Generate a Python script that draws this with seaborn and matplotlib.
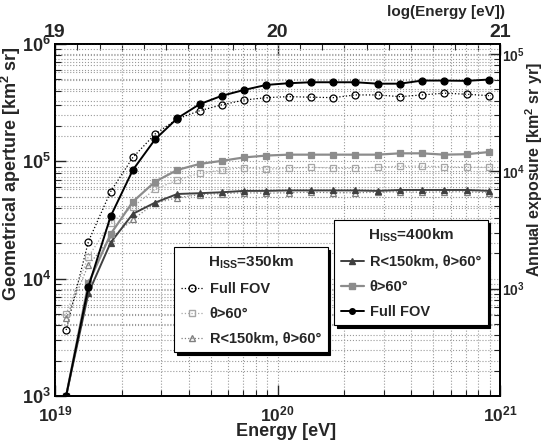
import numpy as np
import matplotlib
matplotlib.use("Agg")
from matplotlib import pyplot as plt
from matplotlib.lines import Line2D
from matplotlib.ticker import LogLocator, MultipleLocator, FixedLocator, NullFormatter
import seaborn as sns

# bin centres, log10(E/eV)
log_energy = [19.05, 19.15, 19.25, 19.35, 19.45, 19.55, 19.65, 19.75, 19.85, 19.95,
              20.05, 20.15, 20.25, 20.35, 20.45, 20.55, 20.65, 20.75, 20.85, 20.95]

# H_ISS = 400 km (solid)
full_400 = [1.0e3, 8.5e3, 3.4e4, 8.45e4, 1.54e5, 2.33e5, 3.07e5, 3.62e5, 4.06e5, 4.48e5,
            4.63e5, 4.72e5, 4.72e5, 4.72e5, 4.59e5, 4.59e5, 4.88e5, 4.88e5, 4.85e5, 4.98e5]
theta_400 = [1.0e3, 9.1e3, 2.4e4, 4.53e4, 6.71e4, 8.45e4, 9.5e4, 1.01e5, 1.08e5, 1.12e5,
             1.14e5, 1.14e5, 1.14e5, 1.14e5, 1.14e5, 1.17e5, 1.17e5, 1.14e5, 1.15e5, 1.2e5]
rcut_400 = [1.0e3, 7.5e3, 2.03e4, 3.57e4, 4.45e4, 5.27e4, 5.35e4, 5.45e4, 5.6e4, 5.6e4,
            5.65e4, 5.65e4, 5.65e4, 5.65e4, 5.6e4, 5.7e4, 5.7e4, 5.7e4, 5.7e4, 5.6e4]

# H_ISS = 350 km (dotted)
full_350 = [3.65e3, 2.07e4, 5.52e4, 1.08e5, 1.71e5, 2.3e5, 2.7e5, 3.03e5, 3.33e5, 3.49e5,
            3.56e5, 3.52e5, 3.49e5, 3.68e5, 3.68e5, 3.56e5, 3.68e5, 3.81e5, 3.73e5, 3.63e5]
theta_350 = [5.0e3, 1.54e4, 3.0e4, 4.1e4, 5.78e4, 6.93e4, 7.9e4, 8.45e4, 8.84e4, 8.57e4,
             8.73e4, 8.9e4, 8.73e4, 8.73e4, 8.9e4, 9.1e4, 9.1e4, 9.0e4, 8.9e4, 8.9e4]
rcut_350 = [4.6e3, 1.31e4, 2.2e4, 3.2e4, 4.4e4, 4.9e4, 5.2e4, 5.3e4, 5.4e4, 5.35e4,
            5.4e4, 5.45e4, 5.4e4, 5.4e4, 5.45e4, 5.5e4, 5.45e4, 5.5e4, 5.5e4, 5.4e4]

exposure_factor = 0.1213  # right axis = aperture * factor

sns.set_style("ticks")
plt.rcParams["font.family"] = ["Liberation Sans", "DejaVu Sans"]
plt.rcParams["font.weight"] = "bold"
plt.rcParams["mathtext.fontset"] = "custom"
plt.rcParams["mathtext.rm"] = "Liberation Sans:bold"
plt.rcParams["mathtext.bf"] = "Liberation Sans:bold"
plt.rcParams["mathtext.it"] = "Liberation Sans:bold"
plt.rcParams["mathtext.default"] = "bf"

energy = 10 ** np.array(log_energy)

fig, ax = plt.subplots(figsize=(5.44, 4.41), dpi=100)
fig.subplots_adjust(left=55/544, right=500/544, bottom=1-396/441, top=1-44/441)

ax.set_xscale("log")
ax.set_yscale("log")

series = [
    (full_350, "o", "black", "none", ":", 0.9),
    (theta_350, "s", "#a6a6a6", "none", ":", 0.9),
    (rcut_350, "^", "#808080", "none", ":", 0.9),
    (rcut_400, "^", "#404040", "#404040", "-", 1.4),
    (theta_400, "s", "#8c8c8c", "#8c8c8c", "-", 1.6),
    (full_400, "o", "black", "black", "-", 1.4),
]
for vals, mk, col, mfc, ls, lw in series:
    sns.lineplot(x=energy, y=vals, ax=ax, color=col, marker=mk, markersize=5,
                 markerfacecolor=mfc, markeredgecolor=col, markeredgewidth=0.9,
                 linestyle=ls, linewidth=lw)

ax.set_xlim(1e19, 1e21)
ax.set_ylim(1e3, 1e6)
ax.xaxis.set_major_locator(FixedLocator([1e19, 1e20, 1e21]))
ax.xaxis.set_minor_locator(LogLocator(base=10, subs=np.arange(2, 10)))
ax.xaxis.set_minor_formatter(NullFormatter())
ax.yaxis.set_major_locator(LogLocator(base=10, numticks=10))
ax.yaxis.set_minor_locator(LogLocator(base=10, subs=np.arange(2, 10), numticks=10))
ax.yaxis.set_minor_formatter(NullFormatter())
ax.grid(which="both", linestyle=":", color="#9a9a9a", linewidth=0.8)
ax.tick_params(which="both", direction="in", labelsize=13, top=False, right=False)
ax.tick_params(which="major", length=8, width=1)
ax.tick_params(which="minor", length=4, width=0.8)
ax.tick_params(axis="x", pad=6, labelsize=12.5)
ax.tick_params(axis="y", pad=3)
ax.set_xlabel("Energy [eV]", fontsize=13, fontweight="bold")
ax.xaxis.set_label_coords((286 - 55) / 445, -0.077)

# right axis: annual exposure
ax_r = ax.twinx()
ax_r.set_yscale("log")
ax_r.set_ylim(1e3 * exposure_factor, 1e6 * exposure_factor)
ax_r.yaxis.set_major_locator(LogLocator(base=10, numticks=10))
ax_r.yaxis.set_minor_locator(LogLocator(base=10, subs=np.arange(2, 10), numticks=10))
ax_r.yaxis.set_minor_formatter(NullFormatter())
ax_r.grid(which="both", axis="y", linestyle=":", color="#9a9a9a", linewidth=0.8)
ax_r.tick_params(which="both", direction="in", labelsize=10, pad=1.5)
ax_r.tick_params(which="major", length=8, width=1)
ax_r.tick_params(which="minor", length=4, width=0.8)

# axis titles aligned to the top end, as in the original
fig.text(11/544, 1-46/441, "Geometrical aperture [km$^2$ sr]", fontsize=13,
         fontweight="bold", rotation=90, ha="center", va="top")
fig.text(534/544, 1-62/441, "Annual exposure [km$^2$ sr yr]", fontsize=11.5,
         fontweight="bold", rotation=90, ha="center", va="top")

# top axis: log10 of energy
ax_t = ax.twiny()
ax_t.set_xlim(19, 21)
ax_t.xaxis.set_major_locator(FixedLocator([19, 20, 21]))
ax_t.xaxis.set_minor_locator(MultipleLocator(0.1))
ax_t.tick_params(which="both", direction="in", labelsize=14, pad=2)
ax_t.tick_params(which="major", length=8, width=1)
ax_t.tick_params(which="minor", length=4, width=0.8)
fig.text(505/544, 1-12/441, "log(Energy [eV])", fontsize=11, fontweight="bold",
         ha="right", va="center")

for a in (ax, ax_r, ax_t):
    for sp in a.spines.values():
        sp.set_color("black")
        sp.set_linewidth(1.3)

ax_r.set_zorder(ax.get_zorder() - 1)
ax_t.set_zorder(ax.get_zorder() - 1)
ax.patch.set_visible(False)

shadow = {"color": "black", "alpha": 1.0}
leg_kw = dict(loc="upper left", bbox_transform=fig.transFigure, fancybox=False,
              shadow=shadow, framealpha=1, edgecolor="black", fontsize=10.5,
              title_fontsize=11, handlelength=1.6, handletextpad=0.4, borderpad=0.45,
              borderaxespad=0, labelspacing=0.75)

h350 = [Line2D([], [], color="black", marker="o", mfc="none", ls=":", lw=0.9, ms=5),
        Line2D([], [], color="#a6a6a6", marker="s", mfc="none", ls=":", lw=0.9, ms=5),
        Line2D([], [], color="#808080", marker="^", mfc="none", ls=":", lw=0.9, ms=5)]
l350 = ["Full FOV", "θ>60°", "R<150km, θ>60°"]
leg1 = ax.legend(h350, l350, title="H$_{\\mathrm{ISS}}$=350km",
                 bbox_to_anchor=(174/544, 1-247/441), **leg_kw)
leg1.get_frame().set_linewidth(0.8)
ax.add_artist(leg1)

h400 = [Line2D([], [], color="#404040", marker="^", ls="-", lw=1.4, ms=5),
        Line2D([], [], color="#8c8c8c", marker="s", ls="-", lw=1.6, ms=5),
        Line2D([], [], color="black", marker="o", ls="-", lw=1.4, ms=4)]
l400 = ["R<150km, θ>60°", "θ>60°", "Full FOV"]
leg2 = ax.legend(h400, l400, title="H$_{\\mathrm{ISS}}$=400km",
                 bbox_to_anchor=(334/544, 1-220/441), **leg_kw)
leg2.get_frame().set_linewidth(0.8)

fig.savefig("out.png", dpi=100)
